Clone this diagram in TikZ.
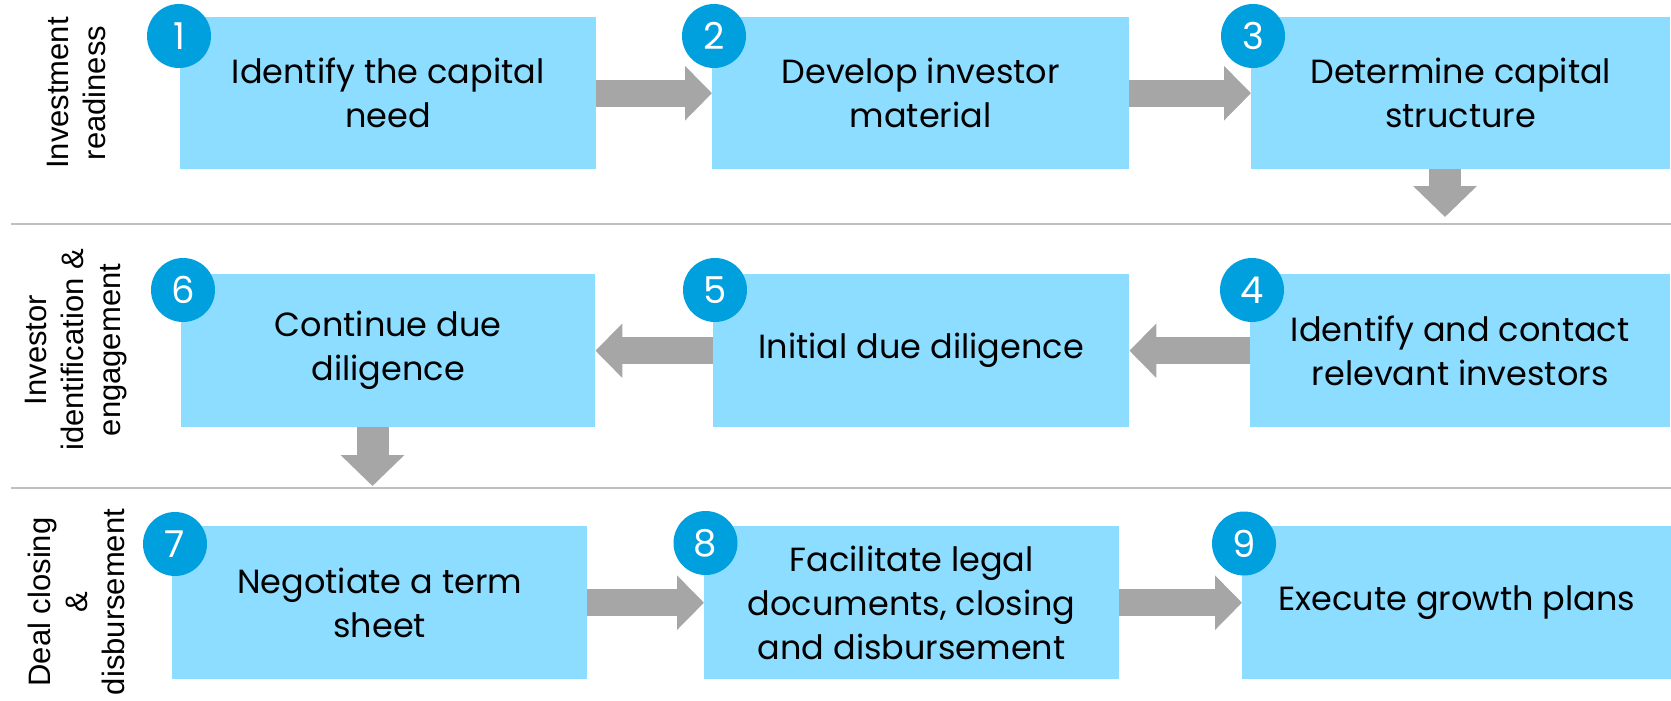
\documentclass[tikz,border=0pt]{standalone}
\usepackage{fontspec}
\setmainfont{Poppins}
\newfontfamily\sidefont{Liberation Sans}
\usetikzlibrary{arrows.meta}
\definecolor{boxblue}{RGB}{140,221,255}
\definecolor{circblue}{RGB}{0,160,223}
\definecolor{arrowgray}{RGB}{166,166,166}
\definecolor{sepgray}{RGB}{191,191,191}
\begin{document}
\begin{tikzpicture}[x=1pt,y=-1pt,
  stepbox/.style={fill=boxblue, minimum height=152pt, anchor=north west, align=center, inner sep=0pt, font=\fontsize{33.5}{44}\selectfont},
  numcirc/.style={circle, fill=circblue, minimum size=64pt, inner sep=0pt, text=white, font=\fontsize{37}{37}\selectfont},
  sidelabel/.style={rotate=90, align=center, inner sep=0pt, font=\sidefont\fontsize{31}{37}\selectfont},
  harrow/.style={draw=arrowgray, line width=27pt, -{Triangle[length=27pt,width=53pt]}},
  varrow/.style={draw=arrowgray, line width=32pt, -{Triangle[length=31pt,width=62pt]}},
  sepline/.style={draw=sepgray, line width=2pt}]
\useasboundingbox (0,0) rectangle (1671,701);
% separators
\coordinate (s1a) at (11,224); \coordinate (s1b) at (1671,224);
\coordinate (s2a) at (11,488); \coordinate (s2b) at (1671,488);
\draw[sepline] (s1a) -- (s1b);
\draw[sepline] (s2a) -- (s2b);
% side labels
\node[sidelabel] (l1) at (76,93) {Investment\\readiness};
\node[sidelabel] (l2) at (76,350) {Investor\\identification \&\\engagement};
\node[sidelabel] (l3) at (76,602) {Deal closing\\\&\\disbursement};
% boxes
\node[stepbox, minimum width=416pt] (b1) at (180,17) {Identify the capital\\need};
\node[stepbox, minimum width=417pt] (b2) at (712,17) {Develop investor\\material};
\node[stepbox, minimum width=419pt] (b3) at (1251,17) {Determine capital\\structure};
\node[stepbox, minimum width=420pt, minimum height=153pt] (b4) at (1250,274) {Identify and contact\\relevant investors};
\node[stepbox, minimum width=416pt, minimum height=153pt] (b5) at (713,274) {Initial due diligence};
\node[stepbox, minimum width=414pt, minimum height=153pt] (b6) at (181,274) {Continue due\\diligence};
\node[stepbox, minimum width=415pt, minimum height=153pt] (b7) at (172,526) {Negotiate a term\\sheet};
\node[stepbox, minimum width=415pt, minimum height=153pt] (b8) at (704,526) {Facilitate legal\\documents, closing\\and disbursement};
\node[stepbox, minimum width=429pt, minimum height=153pt] (b9) at (1242,526) {Execute growth plans};
% arrows
\draw[harrow] (b1.east) -- (b2.west);
\draw[harrow] (b2.east) -- (b3.west);
\coordinate (t1) at (1445,217);
\draw[varrow] (b3.south -| t1) -- (t1);
\draw[harrow] (b4.west) -- (b5.east);
\draw[harrow] (b5.west) -- (b6.east);
\coordinate (t2) at (372.5,486);
\draw[varrow] (b6.south -| t2) -- (t2);
\draw[harrow] (b7.east) -- (b8.west);
\draw[harrow] (b8.east) -- (b9.west);
% number circles
\node[numcirc] (c1) at (179,36) {1};
\node[numcirc] (c2) at (714,36) {2};
\node[numcirc] (c3) at (1253,36) {3};
\node[numcirc] (c4) at (1252,290) {4};
\node[numcirc] (c5) at (715,290) {5};
\node[numcirc] (c6) at (183,290) {6};
\node[numcirc] (c7) at (175,544) {7};
\node[numcirc] (c8) at (705.5,543) {8};
\node[numcirc] (c9) at (1244,543.5) {9};
\end{tikzpicture}
\end{document}
